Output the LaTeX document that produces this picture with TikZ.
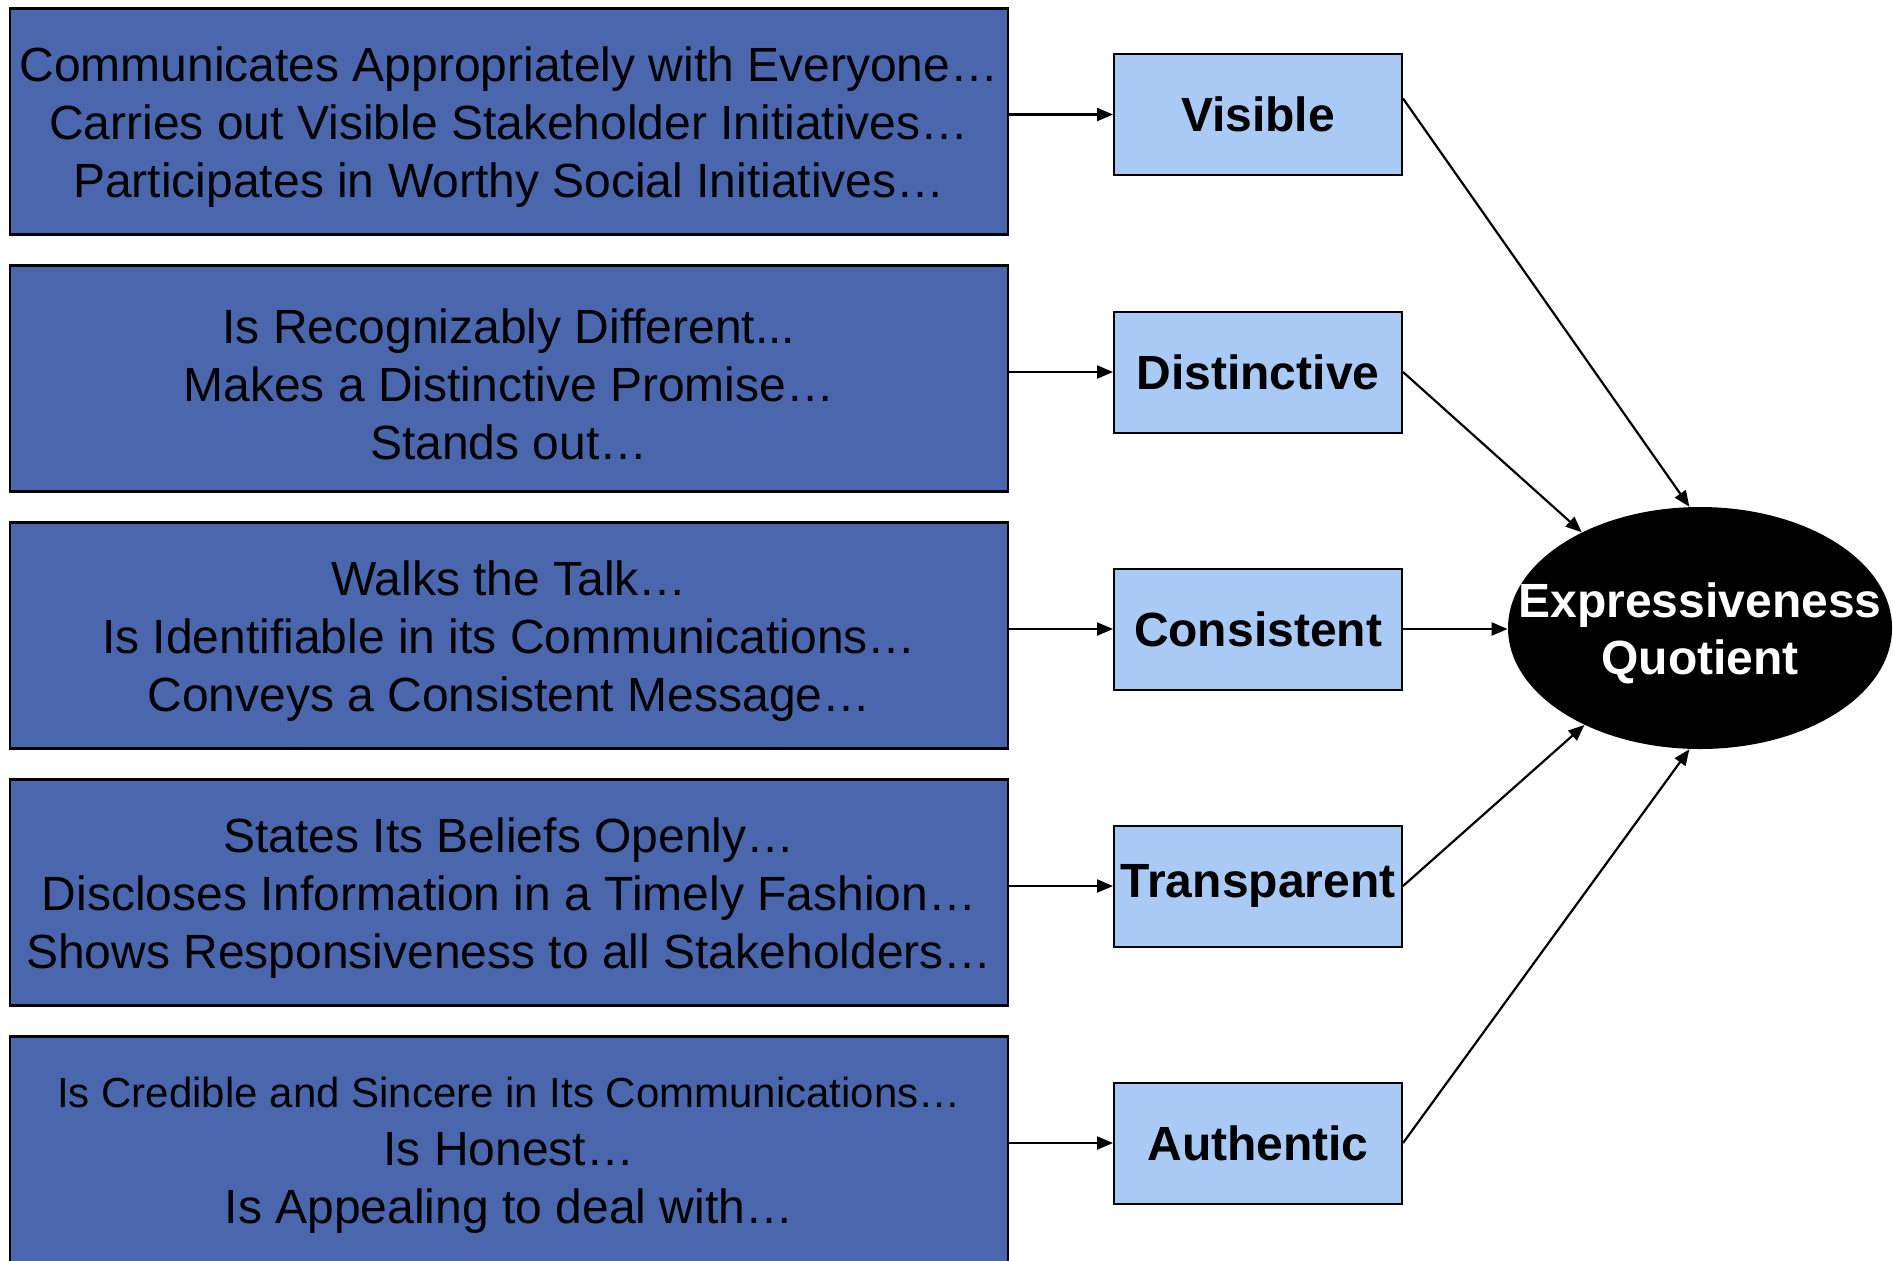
\documentclass[tikz,border=0pt]{standalone}
\usepackage{fontspec}
\setmainfont{Liberation Sans}
\usetikzlibrary{shapes.geometric,arrows.meta}
\definecolor{leftblue}{RGB}{74,103,173}
\definecolor{lightblue}{RGB}{170,202,246}
\begin{document}
\begin{tikzpicture}[x=0.5pt,y=-0.5pt,
  lbox/.style={draw=black,line width=1.3pt,fill=leftblue,minimum width=499pt,minimum height=113pt,inner sep=0pt},
  ltext/.style={inner sep=0pt,align=center,font=\fontsize{24}{29}\selectfont},
  rbox/.style={draw=black,line width=1pt,fill=lightblue,minimum width=144pt,minimum height=60.5pt,inner sep=0pt,font=\fontsize{24}{29}\selectfont\bfseries},
  conn/.style={line width=1.1pt,-{Triangle[length=8pt,width=6.5pt]}}]
\useasboundingbox (0,0) rectangle (1893,1260);
\clip (0,0) rectangle (1893,1260);
% left boxes
\node[lbox] (l1) at (509,121.5) {};
\node[lbox] (l2) at (509,378.5) {};
\node[lbox] (l3) at (509,635.5) {};
\node[lbox] (l4) at (509,892.5) {};
\node[lbox] (l5) at (509,1149.5) {};
\node[ltext] (l1t) at ([yshift=-3pt]l1.center) {Communicates Appropriately with Everyone…\\Carries out Visible Stakeholder Initiatives…\\Participates in Worthy Social Initiatives…};
\node[ltext] (l2t) at ([yshift=-3pt]l2.center) {Is Recognizably Different...\\Makes a Distinctive Promise…\\Stands out…};
\node[ltext] (l3t) at ([yshift=-3pt]l3.center) {Walks the Talk…\\Is Identifiable in its Communications…\\Conveys a Consistent Message…};
\node[ltext] (l4t) at ([yshift=-3pt]l4.center) {States Its Beliefs Openly…\\Discloses Information in a Timely Fashion…\\Shows Responsiveness to all Stakeholders…};
\node[ltext] (l5t) at ([yshift=-3pt]l5.center) {{\fontsize{21}{29}\selectfont Is Credible and Sincere in Its Communications…}\\Is Honest…\\Is Appealing to deal with…};
% right boxes
\node[rbox] (v) at (1258,114.5) {Visible};
\node[rbox] (d) at (1258,372) {Distinctive};
\node[rbox] (c) at (1258,629) {Consistent};
\node[rbox] (t) at (1258,886) {Transparent};
\node[rbox] (a) at (1258,1143) {Authentic};
% ellipse
\node[ellipse,fill=black,minimum width=192pt,minimum height=121pt,inner sep=0pt] (eq) at (1700,628) {};
\node[text=white,align=center,inner sep=0pt,font=\fontsize{24}{28.5}\selectfont\bfseries] (eqt) at ([yshift=-2.5pt]eq.center) {Expressiveness\\Quotient};
% connectors
\draw[conn] (l1.east |- v.west) -- (v.west);
\draw[conn] (l2.east |- d.west) -- (d.west);
\draw[conn] (l3.east |- c.west) -- (c.west);
\draw[conn] (l4.east |- t.west) -- (t.west);
\draw[conn] (l5.east |- a.west) -- (a.west);
\draw[conn] ([yshift=8pt]v.east) -- (eq.95);
\draw[conn] (d.east) -- (eq.141);
\draw[conn] (c.east) -- (c.east -| eq.west);
\draw[conn] (t.east) -- (eq.220);
\draw[conn] (a.east) -- (eq.265);
\end{tikzpicture}
\end{document}
